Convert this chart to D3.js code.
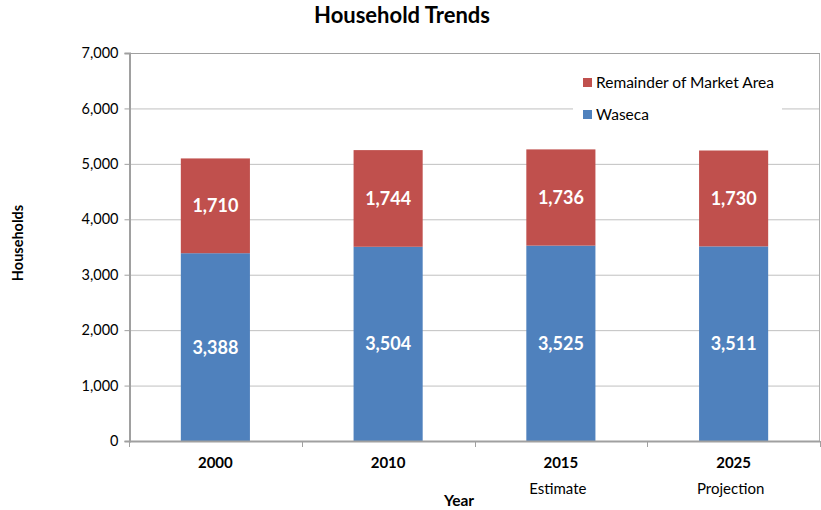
<!DOCTYPE html>
<html>
<head>
<meta charset="utf-8">
<script src="https://cdn.jsdelivr.net/npm/d3@7"></script>
<style>
  html, body { margin: 0; padding: 0; background: #fff; }
  svg { display: block; font-family: Lato, "Open Sans", sans-serif; }
</style>
</head>
<body>
<svg id="chart" width="821" height="510"></svg>
<script>
// Households by year, stacked: Waseca at the bottom, rest of the market area on top
const years = ["2000", "2010", "2015", "2025"];
const yearNotes = ["", "", "Estimate", "Projection"];
const waseca = [3388, 3504, 3525, 3511];
const remainder = [1710, 1744, 1736, 1730];
const yTicks = [0, 1000, 2000, 3000, 4000, 5000, 6000, 7000];
const seriesNames = ["Waseca", "Remainder of Market Area"];
const seriesColors = ["#4F81BD", "#C0504D"];

const svg = d3.select("#chart");
const plot = { left: 129, right: 820, top: 53, bottom: 441 };

const x = d3.scaleBand().domain(years).range([plot.left, plot.right]).paddingInner(0.6).paddingOuter(0.3);
const y = d3.scaleLinear().domain([0, 7000]).range([plot.bottom, plot.top]);

const fmt = d3.format(",");

// Gridlines
svg.append("g").selectAll("line").data(yTicks.filter(t => t > 0)).join("line")
  .attr("x1", plot.left).attr("x2", plot.right)
  .attr("y1", d => y(d) + 0.5).attr("y2", d => y(d) + 0.5)
  .attr("stroke", "#c0c0c0").attr("stroke-width", 1);

// Plot frame (top and right edges)
svg.append("line").attr("x1", plot.right - 0.5).attr("x2", plot.right - 0.5)
  .attr("y1", plot.top).attr("y2", plot.bottom).attr("stroke", "#b0b0b0");
svg.append("line").attr("x1", plot.left).attr("x2", plot.right)
  .attr("y1", plot.top + 0.5).attr("y2", plot.top + 0.5).attr("stroke", "#a0a0a0");

// Stacked bars
const rows = years.map((yr, i) => ({ year: yr, Waseca: waseca[i], "Remainder of Market Area": remainder[i] }));
const stack = d3.stack().keys(seriesNames)(rows);

const layers = svg.append("g").selectAll("g").data(stack).join("g")
  .attr("fill", (d, i) => seriesColors[i]);
layers.selectAll("rect").data(d => d).join("rect")
  .attr("x", d => x(d.data.year))
  .attr("width", x.bandwidth())
  .attr("y", d => y(d[1]))
  .attr("height", d => y(d[0]) - y(d[1]));

// Value labels inside segments
layers.selectAll("text").data(d => d.map(v => ({ v, key: d.key }))).join("text")
  .attr("x", d => x(d.v.data.year) + x.bandwidth() / 2)
  .attr("y", d => (y(d.v[0]) + y(d.v[1])) / 2)
  .attr("dy", "0.36em")
  .attr("text-anchor", "middle")
  .attr("fill", "#fff").attr("font-weight", "bold").attr("font-size", 18)
  .text(d => fmt(d.v.data[d.key]));

// Y axis
const yAxis = svg.append("g").attr("transform", `translate(${plot.left + 0.5},0)`)
  .call(d3.axisLeft(y).tickValues(yTicks).tickFormat(fmt).tickSize(5).tickPadding(6));
yAxis.select(".domain").attr("stroke", "#a0a0a0").attr("stroke-width", 2);
yAxis.selectAll(".tick line").attr("stroke", "#a0a0a0");
yAxis.selectAll(".tick text").attr("font-size", 14.5).attr("fill", "#000")
  .attr("font-family", "Lato, 'Open Sans', sans-serif");

// X axis: ticks on category boundaries
const boundaries = years.map(v => x(v) - x.step() * x.paddingInner() / 2).concat([plot.right]);
const xAxisG = svg.append("g");
xAxisG.append("line").attr("x1", plot.left).attr("x2", plot.right)
  .attr("y1", plot.bottom + 0.5).attr("y2", plot.bottom + 0.5)
  .attr("stroke", "#a0a0a0").attr("stroke-width", 2);
xAxisG.selectAll("line.tk").data(boundaries).join("line").attr("class", "tk")
  .attr("x1", d => Math.round(d) + 0.5).attr("x2", d => Math.round(d) + 0.5)
  .attr("y1", plot.bottom).attr("y2", plot.bottom + 6).attr("stroke", "#a0a0a0");
xAxisG.selectAll("text.yr").data(years).join("text").attr("class", "yr")
  .attr("x", d => x(d) + x.bandwidth() / 2).attr("y", 468)
  .attr("text-anchor", "middle").attr("font-weight", "bold").attr("font-size", 15)
  .text(d => d);
xAxisG.selectAll("text.note").data(years.map((d, i) => ({ d, n: yearNotes[i] })).filter(o => o.n)).join("text").attr("class", "note")
  .attr("x", o => x(o.d) + x.bandwidth() / 2 - 3).attr("y", 494)
  .attr("text-anchor", "middle").attr("font-size", 15)
  .text(o => o.n);

// Axis titles and chart title
svg.append("text").attr("x", 459).attr("y", 506).attr("text-anchor", "middle")
  .attr("font-weight", "bold").attr("font-size", 15.5).text("Year");
svg.append("text").attr("transform", "translate(23,243) rotate(-90)").attr("text-anchor", "middle")
  .attr("font-weight", "bold").attr("font-size", 14.5).text("Households");
svg.append("text").attr("x", 402).attr("y", 23).attr("text-anchor", "middle")
  .attr("font-weight", "bold").attr("font-size", 22).text("Household Trends");

// Legend
const legend = svg.append("g");
legend.append("rect").attr("x", 573).attr("y", 66).attr("width", 209).attr("height", 64).attr("fill", "#fff");
const legendItems = [
  { name: seriesNames[1], color: seriesColors[1], y: 82 },
  { name: seriesNames[0], color: seriesColors[0], y: 114 }
];
legend.selectAll("rect.sw").data(legendItems).join("rect").attr("class", "sw")
  .attr("x", 583).attr("y", d => d.y - 4).attr("width", 9).attr("height", 9).attr("fill", d => d.color);
legend.selectAll("text").data(legendItems).join("text")
  .attr("x", 596).attr("y", d => d.y).attr("dy", "0.36em").attr("font-size", 15.5).text(d => d.name);
</script>
</body>
</html>
